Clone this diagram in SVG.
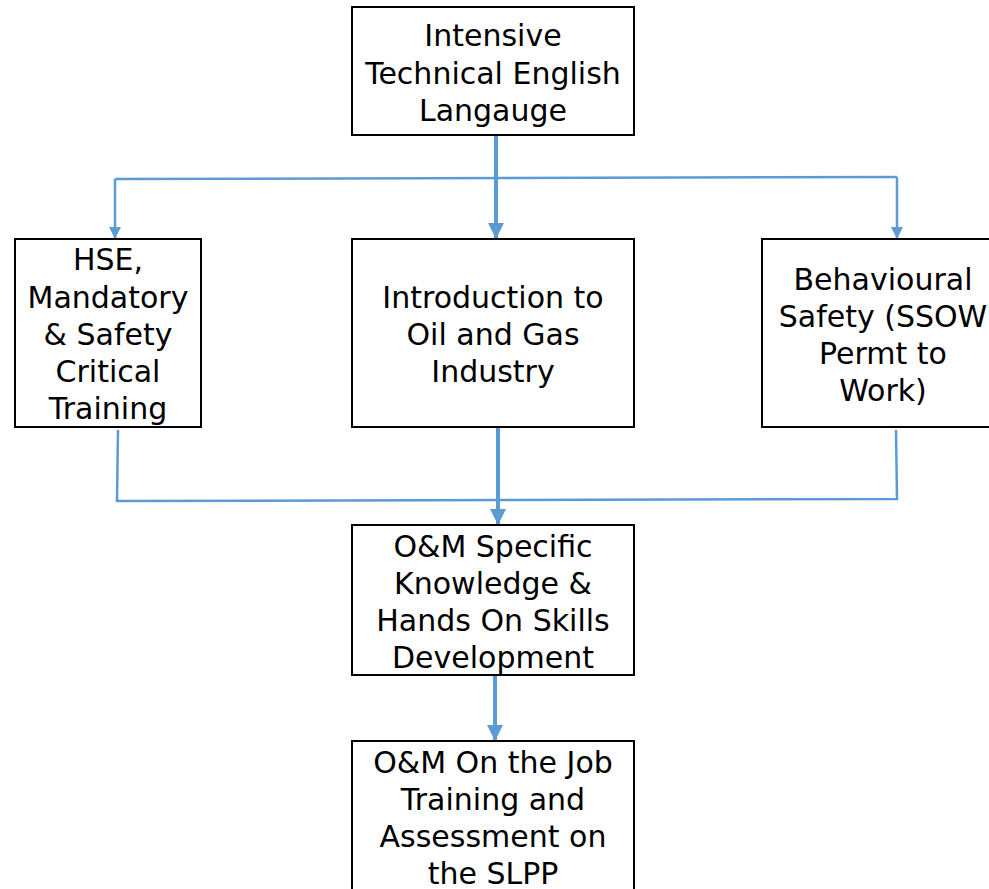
<svg xmlns="http://www.w3.org/2000/svg" width="989" height="889" viewBox="0 0 989 889">
<style>
.box{fill:#fff;stroke:#000;stroke-width:2}
.t{font-family:"DejaVu Sans",Verdana,sans-serif;font-size:30px;fill:#000;text-anchor:middle;dominant-baseline:central}
.thin{stroke:#5B9BD5;stroke-width:2.5;fill:none}
.thick{stroke:#5B9BD5;stroke-width:4;fill:none}
</style>
<defs>
<marker id="ahb" markerWidth="16" markerHeight="16" refX="8" refY="16" markerUnits="userSpaceOnUse" viewBox="0 0 16 16">
<path d="M0,0 L16,0 L8,16 Z" fill="#5B9BD5"/>
</marker>
<marker id="ahs" markerWidth="12" markerHeight="12" refX="6" refY="12" markerUnits="userSpaceOnUse" viewBox="0 0 12 12">
<path d="M0,0 L12,0 L6,12 Z" fill="#5B9BD5"/>
</marker>
</defs>
<g id="connectors">
<line class="thick" x1="496" y1="136" x2="496" y2="239" marker-end="url(#ahb)"/>
<path class="thin" d="M115,179 L897,177"/>
<line class="thin" x1="115" y1="179" x2="115" y2="239" marker-end="url(#ahs)"/>
<line class="thin" x1="897" y1="177" x2="897" y2="239" marker-end="url(#ahs)"/>
<path class="thin" d="M118,430 L117,501 L897,499 L896,430"/>
<line class="thick" x1="498" y1="428" x2="498" y2="525" marker-end="url(#ahb)"/>
<line class="thick" x1="495" y1="676" x2="495" y2="741" marker-end="url(#ahb)"/>
</g>
<g id="n1">
<rect class="box" x="352" y="7" width="282" height="128"/>
<text class="t" x="493" y="35">Intensive</text>
<text class="t" x="493" y="73">Technical English</text>
<text class="t" x="493" y="110">Langauge</text>
</g>
<g id="n2">
<rect class="box" x="15" y="239" width="186" height="188"/>
<text class="t" x="108" y="259">HSE,</text>
<text class="t" x="108" y="297">Mandatory</text>
<text class="t" x="108" y="334">&amp; Safety</text>
<text class="t" x="108" y="371">Critical</text>
<text class="t" x="108" y="408">Training</text>
</g>
<g id="n3">
<rect class="box" x="352" y="239" width="282" height="188"/>
<text class="t" x="493" y="297">Introduction to</text>
<text class="t" x="493" y="334">Oil and Gas</text>
<text class="t" x="493" y="371">Industry</text>
</g>
<g id="n4">
<rect class="box" x="762" y="239" width="244" height="188"/>
<text class="t" x="883" y="279">Behavioural</text>
<text class="t" x="883" y="316">Safety (SSOW</text>
<text class="t" x="883" y="353">Permt to</text>
<text class="t" x="883" y="390">Work)</text>
</g>
<g id="n5">
<rect class="box" x="352" y="525" width="282" height="150"/>
<text class="t" x="493" y="546">O&amp;M Specific</text>
<text class="t" x="493" y="583">Knowledge &amp;</text>
<text class="t" x="493" y="620">Hands On Skills</text>
<text class="t" x="493" y="657">Development</text>
</g>
<g id="n6">
<rect class="box" x="352" y="741" width="282" height="160"/>
<text class="t" x="493" y="762">O&amp;M On the Job</text>
<text class="t" x="493" y="799">Training and</text>
<text class="t" x="493" y="836">Assessment on</text>
<text class="t" x="493" y="873">the SLPP</text>
</g>
</svg>
